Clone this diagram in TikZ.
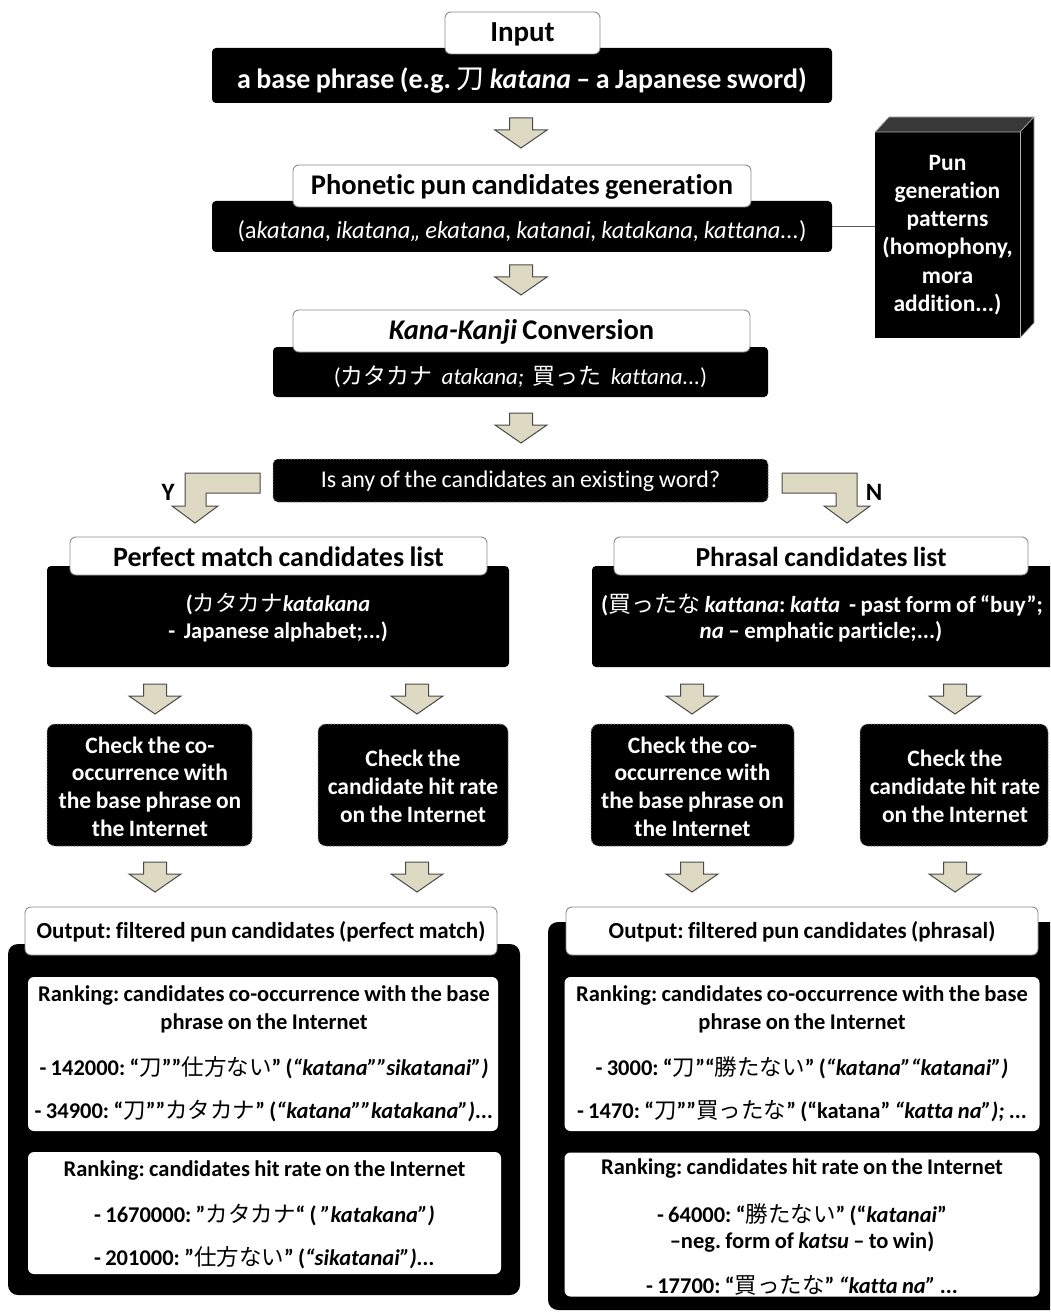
\documentclass[tikz,border=0pt]{standalone}
\usepackage{fontspec}
\setmainfont{Carlito}[WordSpace=0.85, Ligatures=NoCommon]
\newfontfamily\jp{Noto Sans CJK JP}
\newcommand\jpt[1]{{\jp\mdseries\upshape #1}}
\newcommand\fs[2]{\fontsize{#1}{#2}\selectfont}
\definecolor{arrowfill}{HTML}{DDD9C3}
\definecolor{arrowline}{HTML}{4A4A4A}
\frenchspacing
\begin{document}
\begin{tikzpicture}[x=1pt,y=-1pt,
  blk/.style={fill=black, rounded corners=4pt, inner sep=0pt, outer sep=0pt},
  tab/.style={fill=white, draw=black!45, line width=0.9pt, rounded corners=6pt, inner sep=0pt},
  chk/.style={fill=black, draw=black!45, dotted, line width=1pt, rounded corners=8pt, inner sep=0pt},
  wtxt/.style={text=white, align=center, inner sep=0pt, font=\bfseries},
  btxt/.style={text=black, align=center, inner sep=0pt, font=\bfseries},
  arr/.style={fill=arrowfill, draw=arrowline, line width=1pt, line join=miter},
  darrow/.pic={\draw[arr] (-11.5,0) -- (11.5,0) -- (11.5,12) -- (26,12) -- (0,30) -- (-26,12) -- (-11.5,12) -- cycle;}
]
\clip (0,0) rectangle (1050,1313);
\fill[white] (0,0) rectangle (1050,1313);

% ---------- Input ----------
\node[blk, minimum width=620pt, minimum height=55pt] (base) at (522,75.5) {};
\node[tab, minimum width=155pt, minimum height=42pt] (input) at (522.5,33) {};
\node[btxt, font=\bfseries\fs{29}{29}] (inputtxt) at (522.5,34) {Input};
\node[wtxt, font=\bfseries\fs{28}{28}] (basetxt) at (522,80) {a base phrase (e.g. \jpt{刀} \textit{katana} – a Japanese sword)};
\pic (a1) at (521,118) {darrow};

% ---------- Phonetic ----------
\node[blk, minimum width=620pt, minimum height=51pt] (phonb) at (522,226.5) {};
\node[tab, minimum width=458pt, minimum height=42pt] (phonw) at (522,186) {};
\node[btxt, font=\bfseries\fs{28.5}{28}] (phontit) at (522,187) {Phonetic pun candidates generation};
\node[wtxt, font=\mdseries\fs{24.5}{24}] (phontxt) at (522,231) {(a\textit{katana, ikatana,, ekatana, katanai, katakana, kattana...})};

% ---------- Pun generation patterns (3D block) ----------
\node[fill=black, minimum width=145pt, minimum height=206pt, inner sep=0pt] (pun) at (947.5,235) {};
\fill[black!78] (875,132) -- (889,117) -- (1034,117) -- (1020,132) -- cycle;
\fill[black] (1020,132) -- (1034,117) -- (1034,323) -- (1020,338) -- cycle;
\draw[white!70!black, line width=0.7pt] (875,132) -- (889,117) -- (1034,117) -- (1034,323) -- (1020,338);
\draw[white!70!black, line width=0.7pt] (875,132) -- (1020,132) -- (1034,117);
\draw[white!70!black, line width=0.7pt] (1020,132) -- (1020,338);
\node[wtxt, font=\bfseries\fs{23.5}{28.2}] (puntxt) at (947.5,235) {Pun\\generation\\patterns\\(homophony,\\mora\\addition...)};
\draw[black!65, line width=1pt] (phonb.east) -- (pun.west |- phonb.east);
\pic (a2) at (521,265) {darrow};

% ---------- Kana-Kanji ----------
\node[blk, minimum width=495pt, minimum height=50pt] (kanab) at (520.5,372) {};
\node[tab, minimum width=457pt, minimum height=42pt] (kanaw) at (521.5,331) {};
\node[btxt, font=\bfseries\fs{28.5}{28}] (kanatit) at (521.5,332) {\textit{Kana-Kanji} Conversion};
\node[wtxt, font=\mdseries\fs{23}{23}] (kanatxt) at (520.5,377) {(\jpt{カタカナ}\ \ \textit{atakana;}\ \ \jpt{買った}\ \ \textit{kattana...})};
\pic (a3) at (521,413) {darrow};

% ---------- Decision ----------
\node[chk, minimum width=495pt, minimum height=43pt, rounded corners=5pt] (dec) at (520.5,480.5) {};
\node[wtxt, font=\mdseries\fs{24}{24}] (dectxt) at (520.5,481) {Is any of the candidates an existing word?};
\draw[arr] (260,473) -- (185,473) -- (185,506) -- (172,506) -- (195,523) -- (218,506) -- (206,506) -- (206,493) -- (260,493) -- cycle;
\draw[arr] (782,473) -- (857,473) -- (857,506) -- (870,506) -- (847,523) -- (824,506) -- (836,506) -- (836,493) -- (782,493) -- cycle;
\node[btxt, font=\bfseries\fs{25}{25}] (ylab) at (168,492) {Y};
\node[btxt, font=\bfseries\fs{25}{25}] (nlab) at (874,492) {N};

% ---------- Perfect match list ----------
\node[blk, minimum width=462pt, minimum height=101pt] (perfb) at (278,616.5) {};
\node[tab, minimum width=417pt, minimum height=38pt] (perfw) at (278.5,556) {};
\node[btxt, font=\bfseries\fs{28}{28}] (perftit) at (278.5,557) {Perfect match candidates list};
\node[wtxt, font=\bfseries\fs{22.5}{22}] (perf1) at (278,604) {(\jpt{カタカナ}\textit{katakana}};
\node[wtxt, font=\bfseries\fs{22.5}{22}] (perf2) at (278,632) {-\ \ Japanese alphabet;...)};

% ---------- Phrasal list ----------
\node[blk, minimum width=470pt, minimum height=101pt] (phrb) at (827,616.5) {};
\node[tab, minimum width=414pt, minimum height=38pt] (phrw) at (821,556) {};
\node[btxt, font=\bfseries\fs{27.5}{28}] (phrtit) at (821,557) {Phrasal candidates list};
\node[wtxt, font=\bfseries\fs{23}{23}] (phr1) at (822,605) {(\jpt{買ったな} \textit{kattana}: \textit{katta}\ \ - past form of “buy”;};
\node[wtxt, font=\bfseries\fs{23}{23}] (phr2) at (821,632) {\textit{na} – emphatic particle;...)};

% ---------- arrows row 4 ----------
\pic (a4) at (155,684) {darrow};
\pic (a5) at (417,684) {darrow};
\pic (a6) at (692,684) {darrow};
\pic (a7) at (955,684) {darrow};

% ---------- check boxes ----------
\node[chk, minimum width=205pt, minimum height=122pt] (c1) at (149.5,785) {};
\node[chk, minimum width=190pt, minimum height=122pt] (c2) at (413,785) {};
\node[chk, minimum width=203pt, minimum height=122pt] (c3) at (692.5,785) {};
\node[chk, minimum width=188pt, minimum height=122pt] (c4) at (954,785) {};
\node[wtxt, font=\bfseries\fs{23.5}{27.7}] (c1t) at (150,786.5) {Check the co-\\occurrence with\\the base phrase on\\the Internet};
\node[wtxt, font=\bfseries\fs{23.5}{28}] (c2t) at (413,786) {Check the\\candidate hit rate\\on the Internet};
\node[wtxt, font=\bfseries\fs{23.5}{27.7}] (c3t) at (692.5,786.5) {Check the co-\\occurrence with\\the base phrase on\\the Internet};
\node[wtxt, font=\bfseries\fs{23.5}{28}] (c4t) at (955,786) {Check the\\candidate hit rate\\on the Internet};

% ---------- arrows row 5 ----------
\pic (a8) at (155,862) {darrow};
\pic (a9) at (417,862) {darrow};
\pic (a10) at (692,862) {darrow};
\pic (a11) at (955,862) {darrow};

% ---------- Output left ----------
\node[blk, rounded corners=10pt, minimum width=512pt, minimum height=351pt] (outl) at (264,1119.5) {};
\node[tab, minimum width=472pt, minimum height=48pt] (outlh) at (261,931) {};
\node[btxt, font=\bfseries\fs{23}{23}] (outlht) at (261,932) {Output: filtered pun candidates (perfect match)};
\node[tab, draw=none, minimum width=470pt, minimum height=154pt] (ol1) at (263,1054) {};
\node[btxt, font=\bfseries\fs{22.5}{22}] (ol1a) at (264,996) {Ranking: candidates co-occurrence with the base};
\node[btxt, font=\bfseries\fs{22.5}{22}] (ol1b) at (264,1023) {phrase on the Internet};
\node[btxt, font=\bfseries\fs{22.5}{22}] (ol1c) at (264,1068) {- 142000: “\jpt{刀}””\jpt{仕方ない}” (\textit{“katana””sikatanai”)}};
\node[btxt, font=\bfseries\fs{22.5}{22}] (ol1d) at (264,1111) {- 34900: “\jpt{刀}””\jpt{カタカナ}” (\textit{“katana””katakana”)...}};
\node[tab, draw=none, minimum width=473pt, minimum height=122pt] (ol2) at (264.5,1213) {};
\node[btxt, font=\bfseries\fs{22.5}{22}] (ol2a) at (264.5,1170) {Ranking: candidates hit rate on the Internet};
\node[btxt, font=\bfseries\fs{22.5}{22}] (ol2b) at (264.5,1215) {- 1670000: ”\jpt{カタカナ}“ ( \textit{”katakana”)}};
\node[btxt, font=\bfseries\fs{22.5}{22}] (ol2c) at (264.5,1258) {- 201000: ”\jpt{仕方ない}” (\textit{“sikatanai”)...}};

% ---------- Output right ----------
\node[blk, rounded corners=10pt, minimum width=512pt, minimum height=388pt] (outr) at (804,1116) {};
\node[tab, minimum width=472pt, minimum height=48pt] (outrh) at (802,931) {};
\node[btxt, font=\bfseries\fs{23}{23}] (outrht) at (802,932) {Output: filtered pun candidates (phrasal)};
\node[tab, draw=none, minimum width=475pt, minimum height=154pt] (or1) at (802,1054) {};
\node[btxt, font=\bfseries\fs{22.5}{22}] (or1a) at (802,996) {Ranking: candidates co-occurrence with the base};
\node[btxt, font=\bfseries\fs{22.5}{22}] (or1b) at (802,1023) {phrase on the Internet};
\node[btxt, font=\bfseries\fs{22.5}{22}] (or1c) at (802,1068) {- 3000: “\jpt{刀}”“\jpt{勝たない}” (\textit{“katana”“katanai”)}};
\node[btxt, font=\bfseries\fs{22.5}{22}] (or1d) at (802,1111) {- 1470: “\jpt{刀}””\jpt{買ったな}” (“katana” \textit{“katta na”);} ...};
\node[tab, draw=none, minimum width=475pt, minimum height=144pt] (or2) at (802,1224.5) {};
\node[btxt, font=\bfseries\fs{22.5}{22}] (or2a) at (802,1168) {Ranking: candidates hit rate on the Internet};
\node[btxt, font=\bfseries\fs{22.5}{22}] (or2b) at (802,1215) {- 64000: “\jpt{勝たない}” (“\textit{katanai}”};
\node[btxt, font=\bfseries\fs{22.5}{22}] (or2c) at (802,1242) {–neg. form of \textit{katsu} – to win)};
\node[btxt, font=\bfseries\fs{22.5}{22}] (or2d) at (802,1285) {- 17700: “\jpt{買ったな}” \textit{“katta na”} ...};
\end{tikzpicture}
\end{document}
